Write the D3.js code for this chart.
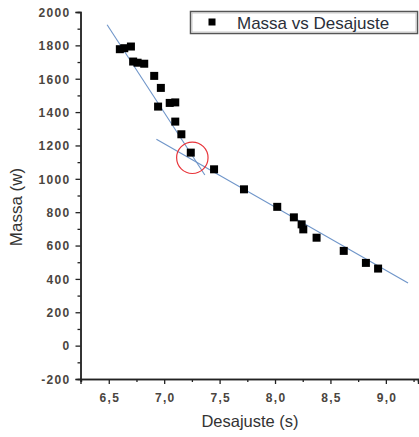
<!DOCTYPE html>
<html>
<head>
<meta charset="utf-8">
<script src="https://cdn.jsdelivr.net/npm/d3@7"></script>
<style>
  body { margin: 0; background: #fff; }
  svg { display: block; font-family: Arial, "Liberation Sans", sans-serif; }
  .tick-label { font-size: 12px; font-weight: bold; fill: #4a4540; letter-spacing: 1.3px; }
</style>
</head>
<body>
<svg width="419" height="437"></svg>
<script>
// measured points: desajuste (s) and massa (w)
var desajuste = [6.60, 6.64, 6.70, 6.72, 6.76, 6.82, 6.91, 6.97, 6.945, 7.05, 7.10, 7.10,
                 7.155, 7.24, 7.45, 7.72, 8.02, 8.17, 8.24, 8.255, 8.375, 8.62, 8.82, 8.93];
var massa = [1777, 1783, 1793, 1703, 1696, 1690, 1617, 1545, 1433, 1455, 1458, 1343,
             1267, 1157, 1057, 937, 832, 769, 727, 697, 647, 568, 496, 462];

// the two fitted lines (end points)
var fitSteepX = [6.485, 7.367];
var fitSteepY = [1924, 1023];
var fitFlatX = [6.93, 9.20];
var fitFlatY = [1237, 376];

// highlighted crossing
var circleX = 7.254, circleY = 1126;

var xTicks = [6.5, 7.0, 7.5, 8.0, 8.5, 9.0];
var yTicks = [-200, 0, 200, 400, 600, 800, 1000, 1200, 1400, 1600, 1800, 2000];

var svg = d3.select("svg");

var x = d3.scaleLinear().domain([6.245, 9.29]).range([80.5, 418]);
var y = d3.scaleLinear().domain([-200, 2000]).range([379, 12]);

var fmtX = function(d) { return d3.format(".1f")(d).replace(".", ","); };
var fmtY = function(d) { return String(d); };

// fit lines
var line = d3.line().x(function(d) { return x(d[0]); }).y(function(d) { return y(d[1]); });
[[fitSteepX, fitSteepY], [fitFlatX, fitFlatY]].forEach(function(f) {
  svg.append("path")
    .datum(d3.zip(f[0], f[1]))
    .attr("d", line)
    .attr("fill", "none")
    .attr("stroke", "#6f95c9")
    .attr("stroke-width", 1.1);
});

// points
svg.selectAll(".pt")
  .data(d3.zip(desajuste, massa))
  .enter().append("rect")
    .attr("class", "pt")
    .attr("x", function(d) { return x(d[0]) - 4; })
    .attr("y", function(d) { return y(d[1]) - 4; })
    .attr("width", 8)
    .attr("height", 8)
    .attr("fill", "#000");

// red circle
svg.append("circle")
  .attr("cx", x(circleX))
  .attr("cy", y(circleY))
  .attr("r", 15.7)
  .attr("fill", "none")
  .attr("stroke", "#e8343a")
  .attr("stroke-width", 1.2);

// axes
var gx = svg.append("g").attr("transform", "translate(0,379)");
gx.call(d3.axisBottom(x).tickValues(xTicks).tickSize(5).tickFormat(fmtX));
gx.append("g").call(d3.axisBottom(x).tickValues(d3.range(6.25, 9.3, 0.5)).tickSize(3).tickFormat(""));

var gy = svg.append("g").attr("transform", "translate(80.5,0)");
gy.call(d3.axisLeft(y).tickValues(yTicks).tickSize(5).tickFormat(fmtY));
gy.append("g").call(d3.axisLeft(y).tickValues(d3.range(-100, 2000, 200)).tickSize(3).tickFormat(""));

svg.selectAll(".domain").attr("stroke", "#222").attr("stroke-width", 1.4);
svg.selectAll(".tick line").attr("stroke", "#222").attr("stroke-width", 1.3);
svg.selectAll(".tick text").attr("class", "tick-label").attr("fill", null);
gx.selectAll(".tick text").attr("y", 22.5).attr("dy", 0).attr("dx", "0.6px");
gy.selectAll(".tick text").attr("x", -10).attr("dy", "0.36em");

// axis titles
svg.append("text")
  .attr("x", 250).attr("y", 427)
  .attr("text-anchor", "middle")
  .style("font-size", "16.5px")
  .style("fill", "#333")
  .text("Desajuste (s)");

svg.append("text")
  .attr("transform", "translate(22,207) rotate(-90)")
  .attr("text-anchor", "middle")
  .style("font-size", "17px")
  .style("fill", "#333")
  .text("Massa (w)");

// legend
var lg = svg.append("g");
lg.append("rect")
  .attr("x", 190.5).attr("y", 11.5).attr("width", 227).attr("height", 22)
  .attr("fill", "#fff").attr("stroke", "#555").attr("stroke-width", 1.5);
lg.append("rect")
  .attr("x", 192).attr("y", 13).attr("width", 224).attr("height", 19)
  .attr("fill", "none").attr("stroke", "#bbb").attr("stroke-width", 0.8);
lg.append("rect")
  .attr("x", 208.5).attr("y", 18.5).attr("width", 7).attr("height", 7)
  .attr("fill", "#000");
lg.append("text")
  .attr("x", 237).attr("y", 28.5)
  .style("font-size", "17px")
  .style("fill", "#2a2f3a")
  .text("Massa vs Desajuste");
</script>
</body>
</html>
